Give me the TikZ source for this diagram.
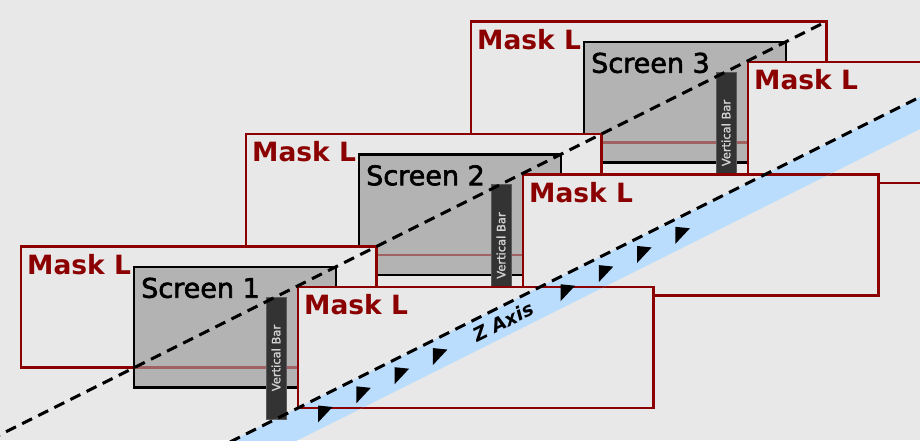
\documentclass[tikz,border=0pt]{standalone}
\usepackage{fontspec}
\setmainfont{DejaVu Sans}
\newfontfamily\screenfont[FakeBold=2.2]{DejaVu Sans}
\newfontfamily\barfont[FakeBold=1.5]{DejaVu Sans}
\usepackage{tikz}
\usetikzlibrary{positioning}

\definecolor{bgGray}{HTML}{E8E8E8}
\definecolor{maskRed}{HTML}{8B0000}
\definecolor{screenGray}{HTML}{B3B3B3}
\definecolor{barGray}{HTML}{333333}
\definecolor{barEdge}{HTML}{5A5A5A}
\definecolor{barText}{HTML}{D2D2D2}
\definecolor{bandBlue}{HTML}{BADCFD}

\begin{document}
\begin{tikzpicture}[x=1pt,y=-1pt]
			\tikzstyle{MaskLine}	= [draw=maskRed, line width=2.2pt]
			\tikzstyle{Mask}	= [rectangle, MaskLine, fill=bgGray, minimum width=355.5pt, minimum height=121pt, anchor=north west, inner sep=0pt, outer sep=0pt]
			\tikzstyle{MaskText}	= [text=maskRed, font=\bfseries\fontsize{26.5}{26.5}\selectfont, inner sep=0pt]
			\tikzstyle{Screen}	= [rectangle, draw=black, fill=screenGray, line width=2.2pt, minimum width=202pt, minimum height=120.5pt, anchor=north west, inner sep=0pt, outer sep=0pt]
			\tikzstyle{ScreenText}	= [text=black, font=\screenfont\fontsize{27}{27}\selectfont, inner sep=0pt]
			\tikzstyle{BarBox}	= [draw=barEdge, fill=barGray, line width=1pt]
			\tikzstyle{Bar}		= [rectangle, BarBox, minimum width=122pt, minimum height=20pt, rotate=90, inner sep=0pt, outer sep=0pt, text=barText, font=\barfont\fontsize{11.5}{11.5}\selectfont]
			\tikzstyle{Seam}	= [maskRed, line width=2.2pt, opacity=0.45]
			\tikzstyle{Band}	= [fill=bandBlue]
			\tikzstyle{ZTip}	= [fill=black]
			\tikzstyle{Track}	= [line width=3pt, dash pattern=on 11pt off 7pt]
			
			\useasboundingbox (0,0) rectangle (920,440);
			\fill [bgGray] (0,0) rectangle (920,440);
			\clip (0,0) rectangle (920,440);
			
			% screen 3
			\node (m3b) at (471,21.5) [Mask] {};
			\node (m3bt) [MaskText, below right=7.5pt and 6pt of m3b.north west] {Mask L};
			\node (s3) at (584,42) [Screen] {};
			\node (s3t) [ScreenText, below right=10.5pt and 7pt of s3.north west] {Screen 3};
			\draw (s3.west |- m3b.south) to (s3.east |- m3b.south) [Seam];
			\node (v3) at (726,133) [Bar] {Vertical Bar};
			\node (m3f) at (748,62) [Mask] {};
			\node (m3ft) [MaskText, below right=7.5pt and 6pt of m3f.north west] {Mask L};
			
			% screen 2
			\node (m2b) at (246,134) [Mask] {};
			\node (m2bt) [MaskText, below right=7.5pt and 6pt of m2b.north west] {Mask L};
			\node (s2) at (359,154.5) [Screen] {};
			\node (s2t) [ScreenText, below right=10.5pt and 7pt of s2.north west] {Screen 2};
			\draw (s2.west |- m2b.south) to (s2.east |- m2b.south) [Seam];
			\node (v2) at (501,245.5) [Bar] {Vertical Bar};
			\node (m2f) at (523,174.5) [Mask] {};
			\node (m2ft) [MaskText, below right=7.5pt and 6pt of m2f.north west] {Mask L};
			
			% screen 1
			\node (m1b) at (21,246.5) [Mask] {};
			\node (m1bt) [MaskText, below right=7.5pt and 6pt of m1b.north west] {Mask L};
			\node (s1) at (134,267) [Screen] {};
			\node (s1t) [ScreenText, below right=10.5pt and 7pt of s1.north west] {Screen 1};
			\draw (s1.west |- m1b.south) to (s1.east |- m1b.south) [Seam];
			\node (v1) at (276,358) [Bar] {Vertical Bar};
			\node (m1f) at (298,287) [Mask] {};
			\node (m1ft) [MaskText, below right=7.5pt and 6pt of m1f.north west] {Mask L};
			
			% z axis
			\coordinate (za) at (-10,439.75);
			\coordinate (zc) at (230,442);
			\coordinate (zd) at (930,92);
			\fill [Band] (zc) -- (zd) -- ++(0,32) -- ++(-700,350) -- cycle;
			\begin{scope}
				\clip (zc) -- (zd) -- ++(0,32) -- ++(-700,350) -- cycle;
				\draw [MaskLine] (m1f.north west) rectangle (m1f.south east);
				\draw [MaskLine] (m2f.north west) -- (m2f.north east);
				\draw [BarBox] (v1.north west) rectangle (v1.south east);
			\end{scope}
			
			\coordinate (z1) at (318,414);
			\coordinate (z2) at (356.3,394.85);
			\coordinate (z3) at (394.6,375.7);
			\coordinate (z4) at (432.9,356.55);
			\coordinate (z5) at (560.5,292.75);
			\coordinate (z6) at (598.8,273.6);
			\coordinate (z7) at (637.1,254.45);
			\coordinate (z8) at (675.4,235.3);
			\fill [ZTip] (z1) +(0,-8.5) -- +(14.5,-7) -- +(0,8.5) -- cycle;
			\fill [ZTip] (z2) +(0,-8.5) -- +(14.5,-7) -- +(0,8.5) -- cycle;
			\fill [ZTip] (z3) +(0,-8.5) -- +(14.5,-7) -- +(0,8.5) -- cycle;
			\fill [ZTip] (z4) +(0,-8.5) -- +(14.5,-7) -- +(0,8.5) -- cycle;
			\fill [ZTip] (z5) +(0,-8.5) -- +(14.5,-7) -- +(0,8.5) -- cycle;
			\fill [ZTip] (z6) +(0,-8.5) -- +(14.5,-7) -- +(0,8.5) -- cycle;
			\fill [ZTip] (z7) +(0,-8.5) -- +(14.5,-7) -- +(0,8.5) -- cycle;
			\fill [ZTip] (z8) +(0,-8.5) -- +(14.5,-7) -- +(0,8.5) -- cycle;
			\node (zt) at (503,322) [rotate=26.57, inner sep=0pt, font=\bfseries\itshape\fontsize{19}{19}\selectfont] {Z Axis};
			
			\draw [Track] (za) -- (m3b.north east);
			\draw [Track] (zc) -- (m1f.south west) -- (m2f.south west) -- (m3f.south west) -- (zd);
\end{tikzpicture}
\end{document}
